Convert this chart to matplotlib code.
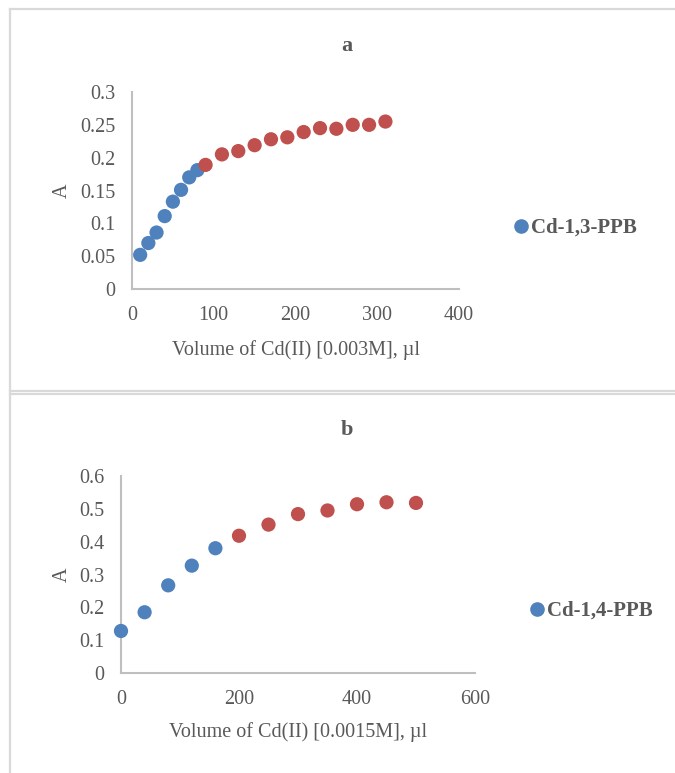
import matplotlib

matplotlib.use("Agg")
import matplotlib.pyplot as plt
from matplotlib.lines import Line2D

# ── data ───────────────────────────────────────────────────────────
# panel a: Cd-1,3-PPB, Cd(II) 0.003 M
a_blue_x = [10, 20, 30, 40, 50, 60, 70, 80]
a_blue_y = [0.052, 0.070, 0.086, 0.111, 0.133, 0.151, 0.170, 0.181]
a_red_x = [90, 110, 130, 150, 170, 190, 210, 230, 250, 270, 290, 310]
a_red_y = [0.189, 0.205, 0.210, 0.219, 0.228, 0.231, 0.239, 0.245, 0.244,
           0.250, 0.250, 0.255]
a_xticks = [0, 100, 200, 300, 400]
a_yticks = [0, 0.05, 0.1, 0.15, 0.2, 0.25, 0.3]
a_yticklabels = ["0", "0.05", "0.1", "0.15", "0.2", "0.25", "0.3"]

# panel b: Cd-1,4-PPB, Cd(II) 0.0015 M
b_blue_x = [0, 40, 80, 120, 160]
b_blue_y = [0.128, 0.185, 0.267, 0.327, 0.380]
b_red_x = [200, 250, 300, 350, 400, 450, 500]
b_red_y = [0.418, 0.452, 0.484, 0.495, 0.514, 0.520, 0.518]
b_xticks = [0, 200, 400, 600]
b_yticks = [0, 0.1, 0.2, 0.3, 0.4, 0.5, 0.6]
b_yticklabels = ["0", "0.1", "0.2", "0.3", "0.4", "0.5", "0.6"]

BLUE = "#4F81BD"
RED = "#C0504D"
GREY_TXT = "#595959"
GREY_AX = "#BFBFBF"
FRAME = "#D9D9D9"
FS = 14.5

plt.rcParams["font.family"] = ["Liberation Serif", "DejaVu Serif"]

W, H = 675, 773
fig = plt.figure(figsize=(W / 100, H / 100), dpi=100)


def px_axes(left, top, right, bottom):
    return fig.add_axes([left / W, 1 - bottom / H, (right - left) / W, (bottom - top) / H])


def style_axes(ax, xticks, yticks, yticklabels):
    for s in ("top", "right"):
        ax.spines[s].set_visible(False)
    for s in ("left", "bottom"):
        ax.spines[s].set_color(GREY_AX)
        ax.spines[s].set_linewidth(1.5)
    ax.set_xlim(xticks[0], xticks[-1])
    ax.set_ylim(yticks[0], yticks[-1])
    ax.set_xticks(xticks)
    ax.set_yticks(yticks)
    ax.set_yticklabels(yticklabels)
    ax.tick_params(length=0, labelsize=FS, labelcolor=GREY_TXT, pad=12)


def panel(ax, bx, by, rx, ry, title, xlabel, legend_label, title_y, leg_xy, ylab_x, xlab_y):
    ax.scatter(bx, by, s=105, color=BLUE, edgecolors="none", zorder=3, clip_on=False)
    ax.scatter(rx, ry, s=105, color=RED, edgecolors="none", zorder=4, clip_on=False)
    ax.set_xlabel(xlabel, fontsize=FS, color=GREY_TXT)
    ax.set_ylabel("A", fontsize=FS, color=GREY_TXT)
    ax.yaxis.set_label_coords(ylab_x, 0.5)
    ax.xaxis.set_label_coords(0.5, xlab_y)
    fig.text(347 / W, 1 - title_y / H, title, ha="center", va="center",
             fontsize=16, fontweight="bold", color=GREY_TXT)
    handle = Line2D([], [], marker="o", ls="", color=BLUE, markersize=9.5)
    ax.legend([handle], [legend_label], loc="center left",
              bbox_to_anchor=(leg_xy[0] / W, 1 - leg_xy[1] / H),
              bbox_transform=fig.transFigure, frameon=False,
              handlelength=0.5, handletextpad=0.2, borderpad=0, borderaxespad=0,
              prop={"size": 15, "weight": "bold"}, labelcolor=GREY_TXT)


ax_a = px_axes(132, 92, 459, 289)
style_axes(ax_a, a_xticks, a_yticks, a_yticklabels)
panel(ax_a, a_blue_x, a_blue_y, a_red_x, a_red_y, "a",
      "Volume of Cd(II) [0.003M], µl", "Cd-1,3-PPB",
      46, (516, 228), -0.185, -0.26)

ax_b = px_axes(121, 476, 475, 673)
style_axes(ax_b, b_xticks, b_yticks, b_yticklabels)
panel(ax_b, b_blue_x, b_blue_y, b_red_x, b_red_y, "b",
      "Volume of Cd(II) [0.0015M], µl", "Cd-1,4-PPB",
      430, (532, 611), -0.14, -0.25)

# chart-area frames (top one, and the one below cut at the image edge)
for xs, ys in [
    ((10, W), (9, 9)),
    ((10, 10), (9, H)),
    ((10, W), (391, 391)),
    ((10, W), (394, 394)),
]:
    fig.add_artist(Line2D([x / W for x in xs], [1 - y / H for y in ys],
                          color=FRAME, lw=1.6, transform=fig.transFigure))

fig.savefig("out.png", dpi=100, facecolor="white")
